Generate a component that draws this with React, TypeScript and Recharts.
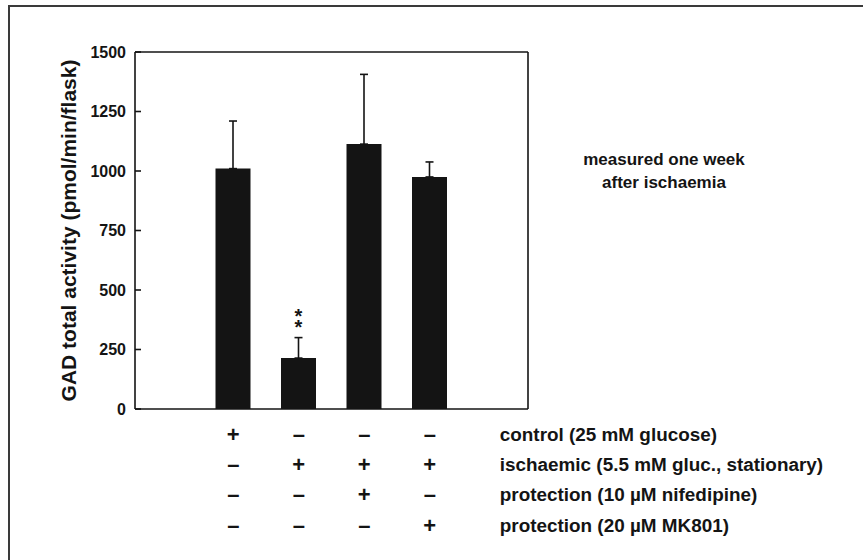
import React from 'react'
import { BarChart, Bar, XAxis, YAxis, ErrorBar, LabelList, CartesianGrid } from 'recharts'

const groups = ['g1', 'g2', 'g3', 'g4']
const means = [1010, 214, 1113, 975]
const errs = [200, 86, 293, 63]
const significance = ['', '**', '', '']
const yTicks = [0, 250, 500, 750, 1000, 1250, 1500]
const rowLabels = [
    'control (25 mM glucose)',
    'ischaemic (5.5 mM gluc., stationary)',
    'protection (10 µM nifedipine)',
    'protection (20 µM MK801)'
]
// treatments[row][group]
const treatments = [
    ['+', '–', '–', '–'],
    ['–', '+', '+', '+'],
    ['–', '–', '+', '–'],
    ['–', '–', '–', '+']
]

const data = groups.map((g, i) => ({
    group: g,
    mean: means[i],
    err: [0, errs[i]],
    sig: significance[i]
}))

const FONT = '"Liberation Sans", Arial, Helvetica, sans-serif'
const INK = '#141414'

const TreatmentTick = ({ x, y, payload, index }: any) => {
    const g = typeof index === 'number' ? index : groups.indexOf(payload.value)
    return (
        <g fontFamily={FONT} fill={INK} fontWeight="bold">
            {treatments.map((row, r) => (
                <text key={r} x={x} y={y + 25 + r * 30.4} textAnchor="middle" dominantBaseline="central" fontSize={22}>
                    {row[g]}
                </text>
            ))}
            {g === groups.length - 1 &&
                rowLabels.map((label, r) => (
                    <text key={'l' + r} x={x + 70} y={y + 25 + r * 30.4} dominantBaseline="central" fontSize={18.9}>
                        {label}
                    </text>
                ))}
        </g>
    )
}

const YTitle = ({ viewBox }: any) => {
    const cx = viewBox.x + 68
    const cy = viewBox.y + viewBox.height / 2
    return (
        <text
            x={cx}
            y={cy}
            transform={`rotate(-90 ${cx} ${cy})`}
            textAnchor="middle"
            dominantBaseline="central"
            fontFamily={FONT}
            fontWeight="bold"
            fontSize={21}
            fill={INK}
        >
            GAD total activity (pmol/min/flask)
        </text>
    )
}

const Stars = ({ x, y, width, height, value, index }: any) => {
    if (!value) return null
    const capY = y + height - ((means[index] + errs[index]) * height) / means[index]
    const cx = x + width / 2
    const marks = value.split('')
    return (
        <text x={cx} y={capY - 4 - (marks.length - 1) * 11} textAnchor="middle" fontFamily={FONT} fontWeight="bold" fontSize={20} fill={INK}>
            {marks.map((s: string, k: number) => (
                <tspan key={k} x={cx} dy={k === 0 ? 0 : 11}>
                    {s}
                </tspan>
            ))}
        </text>
    )
}

export default function App() {
    return (
        <div style={{ position: 'absolute', left: 0, top: 0, width: 863, height: 560, background: '#fff', overflow: 'hidden' }}>
            <div
                style={{
                    position: 'absolute',
                    left: 8,
                    top: 5,
                    width: 870,
                    height: 570,
                    borderTop: '2px solid #3a3a3a',
                    borderLeft: '2px solid #3a3a3a'
                }}
            />
            <BarChart
                width={863}
                height={560}
                data={data}
                margin={{ top: 52, right: 335, bottom: 31, left: 0 }}
                style={{ position: 'absolute', left: 0, top: 0 }}
            >
                {/* top and right sides of the frame */}
                <CartesianGrid
                    stroke={INK}
                    strokeWidth={1.6}
                    horizontalCoordinatesGenerator={({ offset }: any) => [offset.top]}
                    verticalCoordinatesGenerator={({ offset }: any) => [offset.left + offset.width]}
                />
                <XAxis
                    dataKey="group"
                    height={120}
                    padding={{ left: 65.5, right: 65.5 }}
                    axisLine={{ stroke: INK, strokeWidth: 1.6 }}
                    tickLine={false}
                    tickSize={0}
                    tickMargin={0}
                    interval={0}
                    tick={<TreatmentTick />}
                />
                <YAxis
                    width={135}
                    domain={[0, 1500]}
                    ticks={yTicks}
                    interval={0}
                    axisLine={{ stroke: INK, strokeWidth: 1.6 }}
                    tickLine={{ stroke: INK, strokeWidth: 1.6 }}
                    tickSize={-6}
                    tickMargin={15}
                    tick={{ fontFamily: FONT, fontWeight: 'bold', fontSize: 16, fill: INK }}
                    label={<YTitle />}
                />
                <Bar dataKey="mean" fill={INK} barSize={35} isAnimationActive={false}>
                    <ErrorBar dataKey="err" direction="y" width={4} stroke={INK} strokeWidth={1.6} />
                    <LabelList dataKey="sig" content={<Stars />} />
                </Bar>
            </BarChart>
            <div
                style={{
                    position: 'absolute',
                    left: 564,
                    top: 148,
                    width: 200,
                    textAlign: 'center',
                    fontFamily: FONT,
                    fontWeight: 'bold',
                    fontSize: 17,
                    lineHeight: '23px',
                    color: INK
                }}
            >
                measured one week
                <br />
                after ischaemia
            </div>
        </div>
    )
}
